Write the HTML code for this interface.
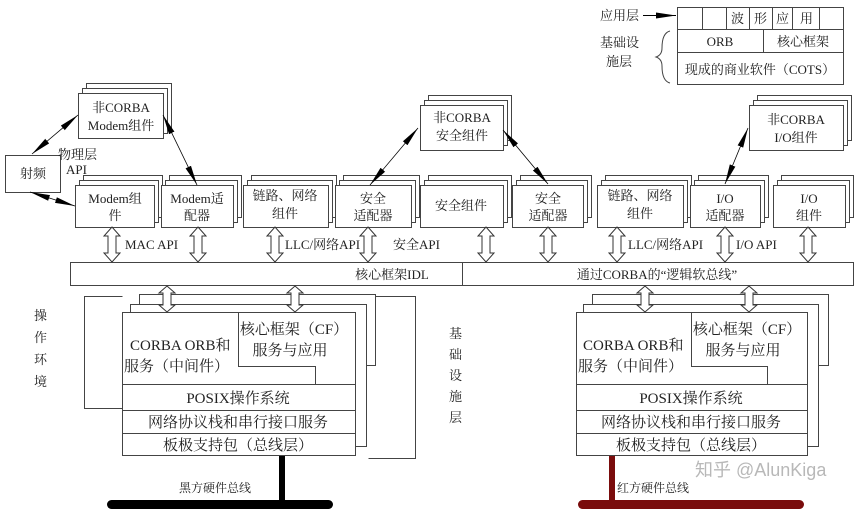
<!DOCTYPE html>
<html><head><meta charset="utf-8"><style>
html,body{margin:0;padding:0;background:#fff;}
svg{display:block;}
text{font-family:"Liberation Serif","Noto Serif CJK SC",serif;font-size:13px;fill:#222;}
.s{font-size:15px;}
</style></head><body>
<svg width="865" height="513" viewBox="0 0 865 513" xmlns="http://www.w3.org/2000/svg">
<defs>
<marker id="ah" viewBox="0 0 20 8" refX="20" refY="4" markerWidth="20" markerHeight="8" markerUnits="userSpaceOnUse" orient="auto-start-reverse"><path d="M0,1 L20,4 L0,7 Z" fill="#000"/></marker>
<path id="da" d="M0,0 L8,9 L4,9 L4,26 L8,26 L0,35 L-8,26 L-4,26 L-4,9 L-8,9 Z" fill="#fff" stroke="#333" stroke-width="1"/>
<path id="db" d="M0,0 L8,7 L4,7 L4,19 L8,19 L0,26 L-8,19 L-4,19 L-4,7 L-8,7 Z" fill="#fff" stroke="#333" stroke-width="1"/>
</defs>
<g fill="#fff" stroke="#444" stroke-width="1">
<rect x="677.5" y="7.5" width="166" height="77"/>
<line x1="677" y1="29.5" x2="843" y2="29.5"/>
<line x1="677" y1="52.5" x2="843" y2="52.5"/>
<line x1="702.5" y1="7" x2="702.5" y2="29"/><line x1="726.5" y1="7" x2="726.5" y2="29"/><line x1="749.5" y1="7" x2="749.5" y2="29"/><line x1="772.5" y1="7" x2="772.5" y2="29"/><line x1="792.5" y1="7" x2="792.5" y2="29"/><line x1="819.5" y1="7" x2="819.5" y2="29"/>
<line x1="763.5" y1="29" x2="763.5" y2="52"/>
<path d="M670,31 Q662,33 662,48 Q662,55 656,57 Q662,59 662,66 Q662,81 670,83" fill="none"/>
</g>
<line x1="643" y1="15.5" x2="676" y2="15.5" stroke="#000" marker-end="url(#ah)"/>
<text x="600" y="20">应用层</text>
<text x="600" y="47">基础设</text><text x="606" y="66">施层</text>
<text x="731" y="23">波</text><text x="754" y="23">形</text><text x="776" y="23">应</text><text x="800" y="23">用</text>
<text x="720" y="46" text-anchor="middle">ORB</text>
<text x="803" y="46" text-anchor="middle">核心框架</text>
<text x="760" y="74" text-anchor="middle">现成的商业软件（COTS）</text>

<g fill="#fff" stroke="#444" stroke-width="1">
<rect x="86.5" y="83.5" width="85" height="45"/><rect x="82.5" y="88.5" width="85" height="45"/><rect x="78.5" y="93.5" width="85" height="45"/>
<rect x="428.5" y="95.5" width="83" height="45"/><rect x="424.5" y="100.5" width="83" height="45"/><rect x="420.5" y="105.5" width="83" height="45"/>
<rect x="757.5" y="95.5" width="94" height="45"/><rect x="753.5" y="100.5" width="94" height="45"/><rect x="749.5" y="105.5" width="94" height="45"/>
<rect x="5.5" y="155.5" width="55" height="37"/>
<rect x="83.5" y="175.5" width="79" height="42"/><rect x="79.5" y="180.5" width="79" height="42"/><rect x="75.5" y="185.5" width="79" height="42"/>
<rect x="169.5" y="175.5" width="72" height="42"/><rect x="165.5" y="180.5" width="72" height="42"/><rect x="161.5" y="185.5" width="72" height="42"/>
<rect x="251.5" y="175.5" width="85" height="42"/><rect x="247.5" y="180.5" width="85" height="42"/><rect x="243.5" y="185.5" width="85" height="42"/>
<rect x="343.5" y="175.5" width="76" height="42"/><rect x="339.5" y="180.5" width="76" height="42"/><rect x="335.5" y="185.5" width="76" height="42"/>
<rect x="428.5" y="175.5" width="83" height="42"/><rect x="424.5" y="180.5" width="83" height="42"/><rect x="420.5" y="185.5" width="83" height="42"/>
<rect x="520.5" y="175.5" width="71" height="42"/><rect x="516.5" y="180.5" width="71" height="42"/><rect x="512.5" y="185.5" width="71" height="42"/>
<rect x="605.5" y="175.5" width="86" height="42"/><rect x="601.5" y="180.5" width="86" height="42"/><rect x="597.5" y="185.5" width="86" height="42"/>
<rect x="698.5" y="175.5" width="70" height="42"/><rect x="694.5" y="180.5" width="70" height="42"/><rect x="690.5" y="185.5" width="70" height="42"/>
<rect x="781.5" y="175.5" width="72" height="42"/><rect x="777.5" y="180.5" width="72" height="42"/><rect x="773.5" y="185.5" width="72" height="42"/>
<rect x="70.5" y="262.5" width="783" height="23"/>
<line x1="462.5" y1="262" x2="462.5" y2="285"/>
</g>
<text x="121" y="112" text-anchor="middle">非CORBA</text><text x="121" y="130" text-anchor="middle">Modem组件</text>
<text x="462" y="122" text-anchor="middle">非CORBA</text><text x="462" y="140" text-anchor="middle">安全组件</text>
<text x="796" y="124" text-anchor="middle">非CORBA</text><text x="796" y="142" text-anchor="middle">I/O组件</text>
<text x="33" y="178" text-anchor="middle">射频</text>
<text x="58" y="159">物理层</text><text x="66" y="174">API</text>
<text x="115" y="203" text-anchor="middle">Modem组</text><text x="115" y="220" text-anchor="middle">件</text>
<text x="197" y="203" text-anchor="middle">Modem适</text><text x="197" y="220" text-anchor="middle">配器</text>
<text x="285" y="200" text-anchor="middle">链路、网络</text><text x="285" y="218" text-anchor="middle">组件</text>
<text x="373" y="203" text-anchor="middle">安全</text><text x="373" y="220" text-anchor="middle">适配器</text>
<text x="461" y="210" text-anchor="middle">安全组件</text>
<text x="548" y="203" text-anchor="middle">安全</text><text x="548" y="220" text-anchor="middle">适配器</text>
<text x="640" y="200" text-anchor="middle">链路、网络</text><text x="640" y="218" text-anchor="middle">组件</text>
<text x="725" y="203" text-anchor="middle">I/O</text><text x="725" y="220" text-anchor="middle">适配器</text>
<text x="809" y="203" text-anchor="middle">I/O</text><text x="809" y="220" text-anchor="middle">组件</text>

<g stroke="#000" stroke-width="0.8" marker-start="url(#ah)" marker-end="url(#ah)">
<line x1="32" y1="154" x2="78" y2="115"/>
<line x1="30" y1="192" x2="75" y2="206"/>
<line x1="163" y1="115" x2="197" y2="185"/>
<line x1="370" y1="185" x2="418" y2="128"/>
<line x1="503" y1="130" x2="548" y2="184"/>
<line x1="725" y1="184" x2="748" y2="128"/>
</g>

<use href="#da" x="112" y="227"/><use href="#da" x="198" y="227"/>
<use href="#da" x="275" y="227"/><use href="#da" x="368" y="227"/>
<use href="#da" x="486" y="227"/><use href="#da" x="548" y="227"/>
<use href="#da" x="617" y="227"/><use href="#da" x="725" y="227"/>
<use href="#da" x="808" y="227"/>
<text x="125" y="249">MAC API</text>
<text x="285" y="249">LLC/网络API</text>
<text x="393" y="249">安全API</text>
<text x="628" y="249">LLC/网络API</text>
<text x="736" y="249">I/O API</text>
<text x="392" y="279" text-anchor="middle">核心框架IDL</text>
<text x="657" y="279" text-anchor="middle">通过CORBA的“逻辑软总线”</text>

<g fill="#fff" stroke="#444" stroke-width="1">
<path d="M122.5,296.5 H84.5 V408.5 H122.5" fill="none"/>
<path d="M375.5,296.5 H415.5 V458.5 H368.5" fill="none"/>
<rect x="139.5" y="294.5" width="236" height="71"/>
<rect x="130.5" y="304.5" width="236" height="142"/>
<rect x="122.5" y="312.5" width="233" height="143"/>
<path d="M238.5,312 V366.5 H315.5 V384" fill="none"/>
<line x1="122" y1="384.5" x2="355" y2="384.5"/>
<line x1="122" y1="410.5" x2="355" y2="410.5"/>
<line x1="122" y1="433.5" x2="355" y2="433.5"/>
</g>
<use href="#db" x="167" y="286"/><use href="#db" x="295" y="286"/>
<text class="s" x="130" y="350">CORBA ORB和</text><text class="s" x="124" y="371">服务（中间件）</text>
<text class="s" x="294" y="334" text-anchor="middle">核心框架（CF）</text><text class="s" x="290" y="355" text-anchor="middle">服务与应用</text>
<text class="s" x="238" y="403" text-anchor="middle">POSIX操作系统</text>
<text class="s" x="238" y="427" text-anchor="middle">网络协议栈和串行接口服务</text>
<text class="s" x="238" y="450" text-anchor="middle">板极支持包（总线层）</text>
<g style="font-size:15px"><text x="34" y="320">操</text><text x="34" y="342">作</text><text x="34" y="364">环</text><text x="34" y="386">境</text></g>
<rect x="279" y="456" width="6" height="48" fill="#000"/>
<rect x="107" y="500" width="226" height="9" rx="4.5" fill="#000"/>
<text x="215" y="492" text-anchor="middle" style="font-size:12px">黑方硬件总线</text>

<g fill="#fff" stroke="#444" stroke-width="1">
<rect x="592.5" y="294.5" width="236" height="71"/>
<rect x="583.5" y="304.5" width="235" height="142"/>
<rect x="576.5" y="312.5" width="231" height="143"/>
<path d="M691.5,312 V366.5 H767.5 V384" fill="none"/>
<line x1="576" y1="384.5" x2="807" y2="384.5"/>
<line x1="576" y1="410.5" x2="807" y2="410.5"/>
<line x1="576" y1="433.5" x2="807" y2="433.5"/>
</g>
<use href="#db" x="645" y="286"/><use href="#db" x="749" y="286"/>
<text class="s" x="583" y="350">CORBA ORB和</text><text class="s" x="578" y="371">服务（中间件）</text>
<text class="s" x="747" y="334" text-anchor="middle">核心框架（CF）</text><text class="s" x="743" y="355" text-anchor="middle">服务与应用</text>
<text class="s" x="691" y="403" text-anchor="middle">POSIX操作系统</text>
<text class="s" x="691" y="427" text-anchor="middle">网络协议栈和串行接口服务</text>
<text class="s" x="691" y="450" text-anchor="middle">板极支持包（总线层）</text>
<g style="font-size:15px"><text x="449" y="338">基</text><text x="449" y="359">础</text><text x="449" y="380">设</text><text x="449" y="401">施</text><text x="449" y="422">层</text></g>
<rect x="609" y="456" width="6" height="48" fill="#7a0c0c"/>
<rect x="578" y="500" width="226" height="9" rx="4.5" fill="#7a0c0c"/>
<text x="653" y="492" text-anchor="middle" style="font-size:12px">红方硬件总线</text>
<text x="695" y="476" style="font-size:18px;fill:#b8b8b8;font-family:'Liberation Sans','Noto Sans CJK SC',sans-serif">知乎 @AlunKiga</text>
</svg>
</body></html>
